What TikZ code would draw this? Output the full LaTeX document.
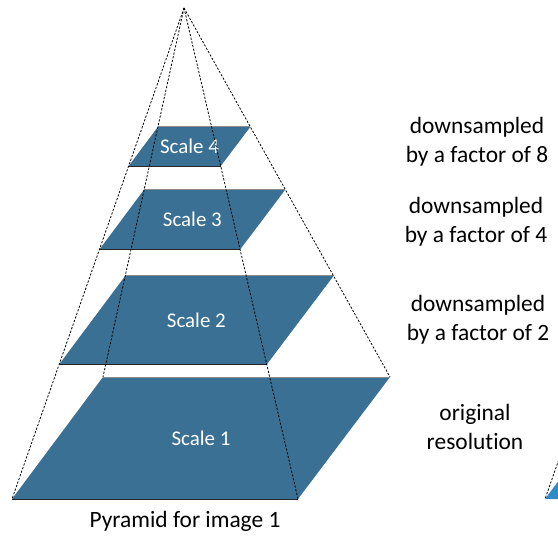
\documentclass[tikz,border=0pt]{standalone}
\usepackage{fontspec}
\setmainfont{Carlito}[Ligatures=NoCommon]
\usepackage{tikz}
\usetikzlibrary{calc, positioning}
\definecolor{scaleblue}{RGB}{58,112,148}
\definecolor{nextblue}{RGB}{46,139,196}

\begin{document}
\begin{tikzpicture}[
    x=1bp, y=-1bp,
    level/.style={fill=scaleblue, draw=none},
    rim/.style={line width=0.8bp, draw=black!85},
    ray/.style={line width=0.8bp, dash pattern=on 2.2bp off 1.6bp},
    lab/.style={font=\fontsize{23.5}{29}\selectfont, align=center},
    scl/.style={font=\fontsize{21}{25}\selectfont, text=white}
]
\useasboundingbox (0,0) rectangle (558,539);
% vertice e base della piramide
\coordinate (A)  at (184,8);
\coordinate (BL) at (12,499);
\coordinate (BR) at (298,499);
\coordinate (TR) at (390,377);
\coordinate (TL) at (103,377);
\coordinate (C)  at ($(BL)!0.5!(TR)$);
% piani della piramide
\foreach \t/\n in {1/1, 0.726/2, 0.492/3, 0.322/4}{
    \fill[level] ($(A)!\t!(BL)$) -- ($(A)!\t!(BR)$) -- ($(A)!\t!(TR)$)
        -- ($(A)!\t!(TL)$) -- cycle;
    \draw[rim] ($(A)!\t!(BL)$) -- ($(A)!\t!(BR)$);
    \draw[rim, draw=black!45] ($(A)!\t!(TL)$) -- ($(A)!\t!(TR)$);
    \node[scl] (S\n) at ($(A)!\t!(C)$) {Scale \n};
}
% spigoli tratteggiati
\foreach \c in {BL,BR,TR,TL}{
    \draw[ray] (A) -- (\c);
}
% piramide successiva (tagliata)
\begin{scope}
    \clip (0,0) rectangle (558,539);
    \begin{scope}[shift={(533,0)}]
        \coordinate (A2)  at (184,8);
        \coordinate (BL2) at (12,499);
        \fill[nextblue] (BL2) -- (298,499) -- (390,377) -- (103,377) -- cycle;
        \draw[ray] (A2) -- (BL2);
    \end{scope}
\end{scope}
% etichette
\node[lab] (L4) at (477,142) {downsampled\\by a factor of 8};
\node[lab] (L3) at (476,222) {downsampled\\by a factor of 4};
\node[lab] (L2) at (478,320) {downsampled\\by a factor of 2};
\node[lab] (L1) at (475,427) {original\\resolution};
\node[lab] (P) at (185,521) {Pyramid for image 1};
\end{tikzpicture}
\end{document}
